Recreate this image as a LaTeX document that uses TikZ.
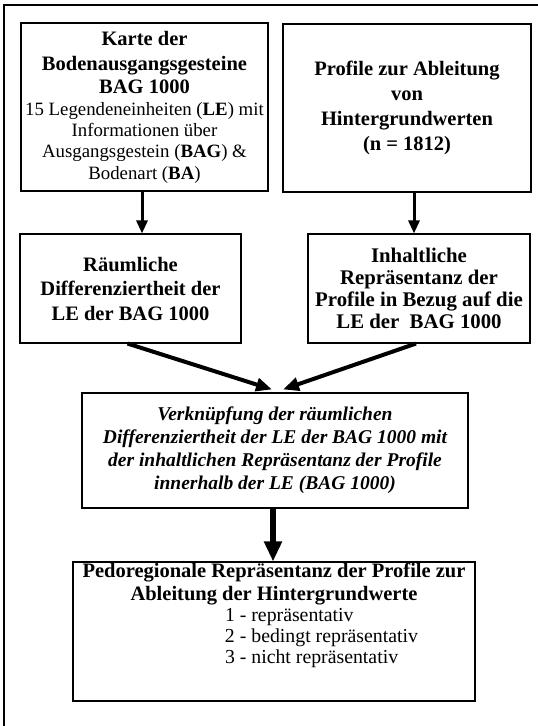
\documentclass[tikz,border=0pt]{standalone}
\usepackage{fontspec}
\setmainfont{Liberation Serif}
\usetikzlibrary{arrows.meta,calc}
\newcommand\ttlfont{\fontsize{20.5}{21}\selectfont\bfseries}
\newcommand\bodyfont{\fontsize{18.8}{21}\selectfont}
\newcommand\midfont{\fontsize{20.5}{24.5}\selectfont\bfseries}
\newcommand\verkfont{\fontsize{19.5}{23}\selectfont\bfseries\itshape}
\newcommand\pedottl{\fontsize{20.5}{21}\selectfont\bfseries}
\newcommand\pedobody{\fontsize{19.8}{21}\selectfont}
\begin{document}
\begin{tikzpicture}[x=1pt,y=-1pt,
  box/.style={draw, line width=1.1pt, align=center, inner sep=2pt},
  thinarrow/.style={line width=3pt, -{Triangle[length=13pt,width=11pt]}},
  diagarrow/.style={line width=4pt, -{Triangle[length=16pt,width=13pt]}},
  bigarrow/.style={line width=5.5pt, -{Triangle[length=20pt,width=17pt]}},
  frame/.style={draw, line width=2pt}
]
\useasboundingbox (0,0) rectangle (538,726);
\path[frame] (4,5) rectangle (546,740);

\node[box, minimum width=247, minimum height=168, font=\bodyfont] (karte) at (144.5,107) {%
\ttlfont Karte der\\[4pt]
\ttlfont Bodenausgangsgesteine\\[2pt]
\ttlfont BAG 1000\\[1pt]
\bodyfont 15 Legendeneinheiten (\textbf{LE}) mit\\
\bodyfont Informationen über\\
\bodyfont Ausgangsgestein (\textbf{BAG}) \&\\[1pt]
\bodyfont Bodenart (\textbf{BA})};

\node[box, minimum width=248, minimum height=168, font=\fontsize{20.5}{25}\selectfont\bfseries] (profile) at (407,108) {%
Profile zur Ableitung\\ von\\ Hintergrundwerten\\ (n = 1812)};

\node[box, minimum width=221, minimum height=109, font=\midfont] (raum) at (130.5,288.5) {%
Räumliche\\ Differenziertheit der\\ LE der BAG 1000};

\node[box, minimum width=222, minimum height=109, font=\fontsize{20.8}{22}\selectfont\bfseries] (inhalt) at (419,288.5) {%
Inhaltliche\\ Repräsentanz der\\ Profile in Bezug auf die\\ LE der~ BAG 1000};

\node[box, minimum width=386, minimum height=115, font=\verkfont] (verk) at (275,450.5) {%
Verknüpfung der räumlichen\\ Differenziertheit der LE der BAG 1000 mit\\ der inhaltlichen Repräsentanz der Profile\\ innerhalb der LE (BAG 1000)};

\node[box, minimum width=402, minimum height=139] (pedo) at (274,631.5) {};
\node[anchor=north, inner sep=0pt, align=center, font=\pedobody] (pedotxt) at ($(pedo.north)+(0,1.5)$) {%
\pedottl Pedoregionale Repräsentanz der Profile zur\\[2pt]
\pedottl Ableitung der Hintergrundwerte\\
\pedobody\makebox[98pt][l]{1 - repräsentativ}\\
\pedobody\makebox[98pt][l]{2 - bedingt repräsentativ}\\
\pedobody\makebox[98pt][l]{3 - nicht repräsentativ}};

\coordinate (ax1) at (142,0);
\coordinate (ax2) at (414,0);
\draw[thinarrow] (ax1 |- karte.south) -- (ax1 |- raum.north);
\draw[thinarrow] (ax2 |- profile.south) -- (ax2 |- inhalt.north);
\draw[diagarrow] ($(raum.south)+(-3,0)$) -- ($(verk.north)+(-3,-3)$);
\draw[diagarrow] ($(inhalt.south)+(-3,0)$) -- ($(verk.north)+(8,-3)$);
\draw[bigarrow] ($(verk.south)+(-2,0)$) -- ($(pedo.north)+(-1,0)$);
\end{tikzpicture}
\end{document}
